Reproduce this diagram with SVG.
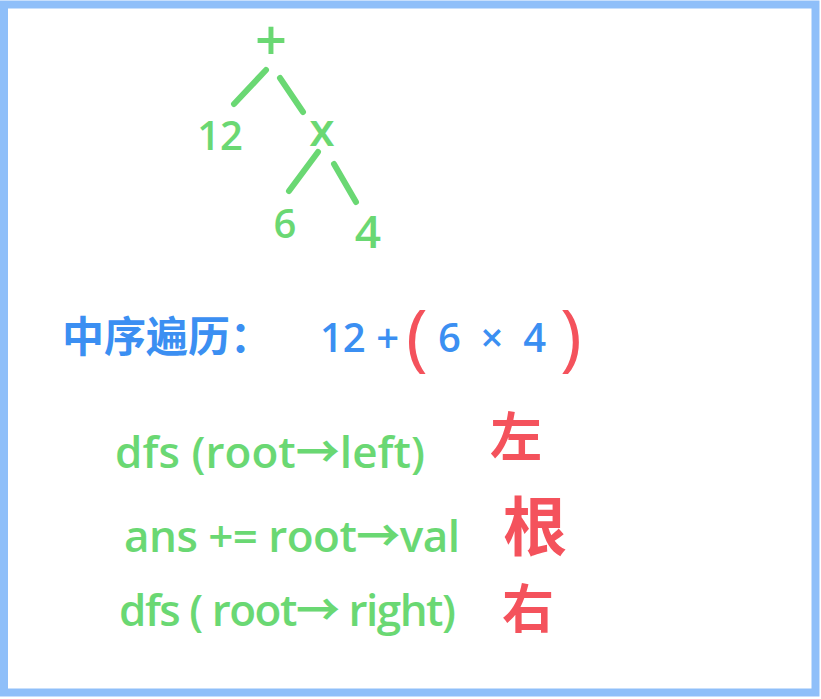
<svg xmlns="http://www.w3.org/2000/svg" width="821" height="699" viewBox="0 0 821 699">
<style>
.g{fill:#6ad873;font-family:"Open Sans","Noto Sans CJK SC",sans-serif;font-weight:600}
.b{fill:#3b8ff2;font-family:"Open Sans","Noto Sans CJK SC",sans-serif;font-weight:600}
.r{fill:#f4525c;font-family:"Noto Sans CJK SC",sans-serif;font-weight:700}
.p{fill:#f4525c;font-family:"Open Sans",sans-serif;font-weight:400}
.edge{stroke:#6ad873;stroke-width:6;stroke-linecap:round;fill:none}
.frame{fill:none;stroke:#8fbff9;stroke-width:8}
</style>
<rect width="821" height="699" fill="#ffffff"/>
<rect class="frame" x="4" y="4.5" width="811.5" height="688"/>
<g id="connectors">
<line class="edge" x1="266" y1="70" x2="234" y2="104"/>
<line class="edge" x1="280" y1="78" x2="303" y2="112"/>
<line class="edge" x1="318" y1="152" x2="289" y2="191"/>
<line class="edge" x1="334" y1="164" x2="356" y2="202"/>
</g>
<g id="node-plus"><text class="g" x="271" y="60" font-size="56" text-anchor="middle">+</text></g>
<g id="node-12"><text class="g" x="220" y="150" font-size="40" text-anchor="middle">12</text></g>
<g id="node-times"><text class="g" x="322" y="146" font-size="46" text-anchor="middle">x</text></g>
<g id="node-6"><text class="g" x="285" y="238" font-size="40" text-anchor="middle">6</text></g>
<g id="node-4"><text class="g" x="368" y="248" font-size="46" text-anchor="middle">4</text></g>
<g id="inorder">
<text class="b" x="62" y="352" font-size="42">中序遍历：</text>
<text class="b" x="320" y="352" font-size="40">12 +</text>
<text class="p" x="406" y="362" font-size="74">(</text>
<text class="b" x="438" y="352" font-size="40" textLength="108">6 × 4</text>
<text class="p" x="560" y="362" font-size="74">)</text>
</g>
<g id="code">
<text class="g" x="115" y="468" font-size="44" textLength="310">dfs (root→left)</text>
<text class="r" x="490" y="456" font-size="52">左</text>
<text class="g" x="124" y="552" font-size="44" textLength="336">ans += root→val</text>
<text class="r" x="503" y="550" font-size="64">根</text>
<text class="g" x="119" y="626" font-size="44" textLength="337">dfs ( root→ right)</text>
<text class="r" x="502" y="628" font-size="52">右</text>
</g>
</svg>
